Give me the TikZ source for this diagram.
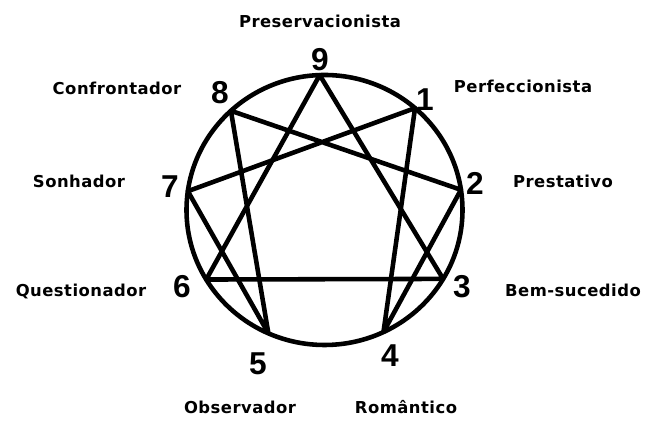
\documentclass[tikz,border=0pt]{standalone}
\usepackage{fontspec}
\setmainfont{DejaVu Sans}
\newfontfamily\numfont{Liberation Sans}
\newfontfamily\typfont[LetterSpace=3]{DejaVu Sans}
\usetikzlibrary{calc,positioning}

\tikzset{
  num/.style={font=\numfont\bfseries\fontsize{27}{27}\selectfont, inner sep=0pt},
  typ/.style={font=\typfont\bfseries\fontsize{14}{15}\selectfont, inner sep=0pt, anchor=base},
  ring/.style={line width=3.9pt, line join=round},
}

\begin{document}
\begin{tikzpicture}[x=0.03cm,y=0.03cm]
	\useasboundingbox (0,0) rectangle (660,432);
	\coordinate (c) at (324.5,222);
	\draw[ring] (c) ellipse (138 and 135);
	\foreach \n/\a in {9/92,1/49,2/8.6,3/-30.7,4/-64.7,5/-114,6/-149,7/172,8/132.7}
		\coordinate (p\n) at ($(c)+(\a:138 and 135)$);
	\draw[ring] (p9) -- (p3) -- (p6) -- cycle;
	\draw[ring] (p1) -- (p4) -- (p2) -- (p8) -- (p5) -- (p7) -- cycle;
	% numbers
	\node[num] (n9) at (320,372) {9};
	\node[num] (n1) at (425,332) {1};
	\node[num] (n2) at (475,249) {2};
	\node[num] (n3) at (462,145) {3};
	\node[num] (n4) at (390,76) {4};
	\node[num] (n5) at (258,68) {5};
	\node[num] (n6) at (182,145) {6};
	\node[num] (n7) at (170,245) {7};
	\node[num] (n8) at (220,339) {8};
	% types
	\node[typ] (t9) at (320,404) {Preservacionista};
	\node[typ] (t1) at (523,339) {Perfeccionista};
	\node[typ] (t2) at (563,244) {Prestativo};
	\node[typ] (t3) at (573,135) {Bem-sucedido};
	\node[typ] (t4) at (406,18) {Romântico};
	\node[typ] (t5) at (240,18) {Observador};
	\node[typ] (t6) at (81,135) {Questionador};
	\node[typ] (t7) at (79,244) {Sonhador};
	\node[typ] (t8) at (117,337) {Confrontador};
\end{tikzpicture}
\end{document}
